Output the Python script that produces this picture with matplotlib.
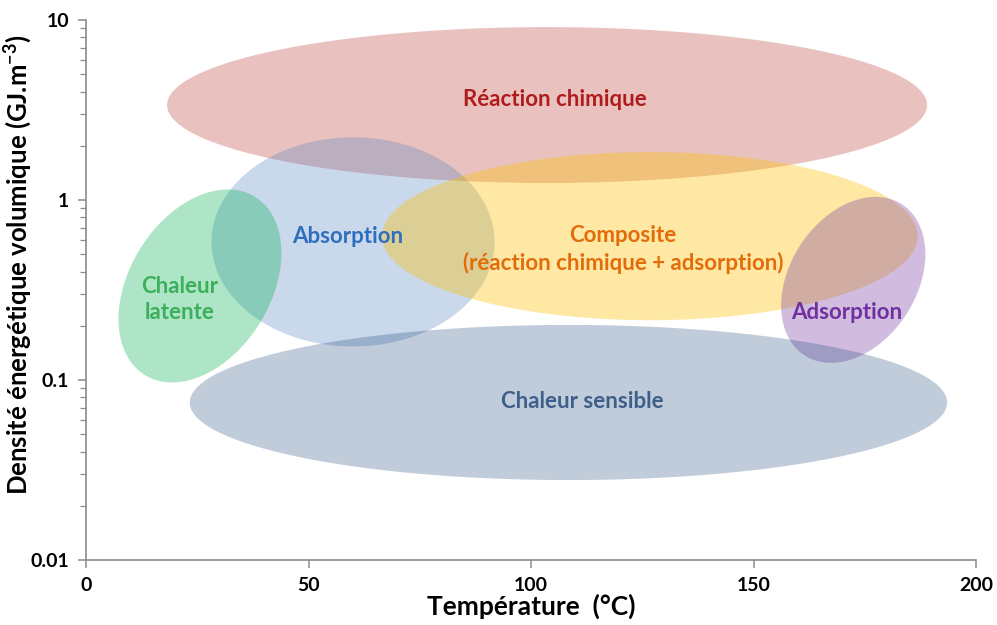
import numpy as np
from matplotlib import pyplot as plt

# zones: centre temperature (°C), centre density (GJ/m3), half span in °C,
# half span in decades, phase (deg) giving the tilt
zone_names = ["Réaction chimique", "Absorption", "Chaleur\nlatente",
              "Composite\n(réaction chimique + adsorption)", "Adsorption", "Chaleur sensible"]
zone_t = [103.6, 60.0, 25.6, 126.7, 172.4, 108.4]
zone_d = [3.37, 0.585, 0.333, 0.63, 0.36, 0.075]
zone_dt = [85.4, 31.8, 18.3, 60.2, 16.2, 85.1]
zone_dd = [0.433, 0.581, 0.536, 0.467, 0.461, 0.431]
zone_phase = [0, 0, 20, 0, 18, 0]

# label positions
label_t = [105.4, 58.9, 21.1, 120.7, 171.0, 111.5]
label_d = [3.6, 0.63, 0.28, 0.53, 0.236, 0.076]

fill_colors = ["#C0504D", "#4F81BD", "#00B050", "#FFC000", "#7030A0", "#1F497D"]
fill_alpha = [0.35, 0.30, 0.32, 0.36, 0.32, 0.28]
text_colors = ["#B01C1C", "#2E6EBF", "#3BAF5A", "#E36C0A", "#7030A0", "#3E5F8A"]

x_ticks = [0, 50, 100, 150, 200]
y_ticks = [0.01, 0.1, 1, 10]
y_ticklabels = ["0.01", "0.1", "1", "10"]

plt.rcParams['font.family'] = ['Lato', 'DejaVu Sans']
plt.rcParams['font.weight'] = 'bold'

fig = plt.figure(figsize=(9.97, 6.25), dpi=100)
ax = fig.add_axes([0.0863, 0.104, 0.8927, 0.864])

t = np.linspace(0, 2 * np.pi, 300)
for i in range(len(zone_names)):
    xs = zone_t[i] + zone_dt[i] * np.cos(t)
    ys = 10 ** (np.log10(zone_d[i]) + zone_dd[i] * np.sin(t + np.radians(zone_phase[i])))
    ax.fill(xs, ys, color=fill_colors[i], alpha=fill_alpha[i], lw=0)

for i in range(len(zone_names)):
    ax.text(label_t[i], label_d[i], zone_names[i], color=text_colors[i], fontsize=16,
            fontweight='bold', ha='center', va='center', linespacing=1.3)

ax.set_yscale('log')
ax.set_xlim(0, 200)
ax.set_ylim(0.01, 10)
ax.set_xticks(x_ticks)
ax.set_xticklabels([str(v) for v in x_ticks])
ax.set_yticks(y_ticks)
ax.set_yticklabels(y_ticklabels)

for side in ["top", "right"]:
    ax.spines[side].set_visible(False)
for side in ["left", "bottom"]:
    ax.spines[side].set_color("#8c8c8c")
    ax.spines[side].set_linewidth(1.2)

ax.tick_params(axis='both', which='major', colors="#8c8c8c", length=6, width=1.1,
               labelcolor="black", labelsize=14, pad=6)
ax.tick_params(axis='y', which='minor', colors="#8c8c8c", length=4, width=0.9)

ax.set_xlabel("Température  (°C)", fontsize=19, fontweight='bold')
ax.xaxis.set_label_coords(0.5, -0.062)
ax.set_ylabel("Densité énergétique volumique (GJ.m$^{\\mathregular{-3}}$)", fontsize=18.5,
              fontweight='bold')
ax.yaxis.set_label_coords(-0.058, 0.546)

fig.savefig("out.png", dpi=100)
